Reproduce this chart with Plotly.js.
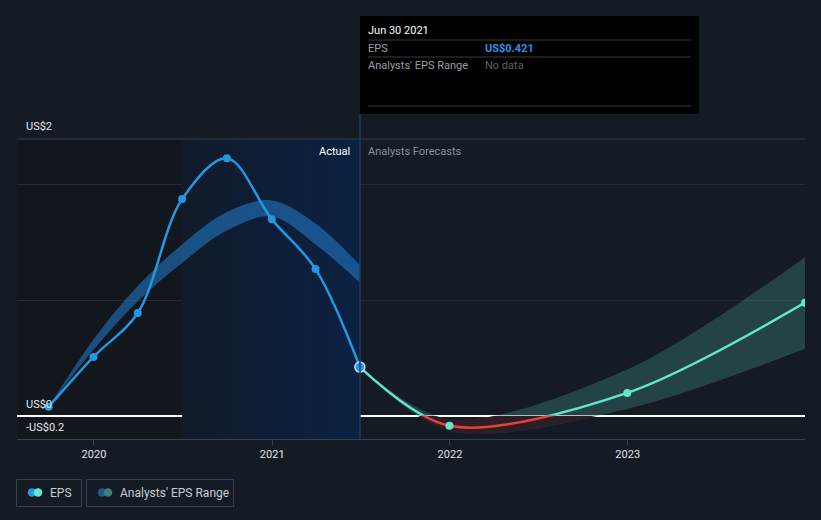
<!DOCTYPE html>
<html>
<head>
<meta charset="utf-8">
<script src="https://cdn.plot.ly/plotly-3.0.1.min.js"></script>
<style>
  html, body { margin: 0; padding: 0; background: #151b25; }
  #myGraph { width: 821px; height: 520px; }
</style>
</head>
<body>
<div id="myGraph"></div>
<script>
// 實際 EPS (每季)
const actualDates = ['2019-09-30', '2019-12-31', '2020-03-31', '2020-06-30', '2020-09-30', '2020-12-31', '2021-03-31', '2021-06-30'];
const actualEps = [0.078, 0.509, 0.888, 1.871, 2.224, 1.698, 1.267, 0.421];
// 過去的分析師區間
const pastRangeHigh = [0.078, 0.66, 1.12, 1.48, 1.76, 1.86, 1.66, 1.30];
const pastRangeLow = [0.078, 0.57, 0.99, 1.32, 1.60, 1.72, 1.48, 1.15];

// 預測
const forecastDates = ['2021-06-30', '2021-12-31', '2022-12-31', '2023-12-31'];
const forecastEps = [0.421, -0.086, 0.198, 0.977];
const forecastHigh = [0.421, -0.03, 0.40, 1.37];
const forecastLow = [0.421, -0.13, 0.06, 0.58];

const yearTicks = ['2020-01-01', '2021-01-01', '2022-01-01', '2023-01-01'];
const yearLabels = ['2020', '2021', '2022', '2023'];

const Y_MIN = -0.2, Y_MAX = 2.39;

// 像素 -> paper 座標
const L = 17, R = 805, T = 139, B = 439;
function px(x) { return (x - L) / (R - L); }
function py(y) { return (B - y) / (B - T); }

const BLUE = '#2496e2', TEAL = '#63e6cb', RED = '#e8403f';
const SMOOTH = 0.9;

let myGraph = document.getElementById('myGraph');

let data = [];

// 過去一年的背景 (漸層)
data.push({
    x: ['2020-06-30', '2021-06-30', '2021-06-30', '2020-06-30', '2020-06-30'],
    y: [Y_MIN, Y_MIN, Y_MAX, Y_MAX, Y_MIN],
    mode: 'lines', line: { width: 0 }, fill: 'toself',
    fillgradient: { type: 'horizontal', colorscale: [[0, '#111a29'], [1, '#0b2244']] },
    hoverinfo: 'skip', showlegend: false
});

// 過去的分析師區間
data.push({
    x: actualDates, y: pastRangeLow, mode: 'lines',
    line: { width: 0, shape: 'spline' }, hoverinfo: 'skip', showlegend: false
});
data.push({
    x: actualDates, y: pastRangeHigh, mode: 'lines', fill: 'tonexty',
    fillcolor: 'rgba(35,125,205,0.55)',
    line: { width: 0, shape: 'spline' }, hoverinfo: 'skip', showlegend: false
});

// 預測區間
data.push({
    x: forecastDates, y: forecastLow, mode: 'lines',
    line: { width: 0, shape: 'spline', smoothing: SMOOTH }, hoverinfo: 'skip', showlegend: false
});
data.push({
    x: forecastDates, y: forecastHigh, mode: 'lines', fill: 'tonexty',
    fillcolor: 'rgba(99,230,203,0.2)',
    line: { width: 0, shape: 'spline', smoothing: SMOOTH }, hoverinfo: 'skip', showlegend: false
});

// 實際 EPS
data.push({
    x: actualDates, y: actualEps, mode: 'lines+markers',
    line: { color: BLUE, width: 2.5, shape: 'spline' },
    marker: { color: BLUE, size: 8 }, showlegend: false
});

// 預測 EPS
data.push({
    x: forecastDates, y: forecastEps, mode: 'lines+markers',
    line: { color: TEAL, width: 2.5, shape: 'spline', smoothing: SMOOTH },
    marker: { color: TEAL, size: 8 }, showlegend: false
});

// 目前選取的點
data.push({
    x: [actualDates[actualDates.length - 1]], y: [actualEps[actualEps.length - 1]],
    mode: 'markers',
    marker: { color: BLUE, size: 10, line: { color: '#bfe0f7', width: 1.5 } },
    showlegend: false
});

// 零以下 (紅色) — 同一組資料, 放在只涵蓋負值的子圖裡
data.push({
    x: forecastDates, y: forecastLow, mode: 'lines', xaxis: 'x2', yaxis: 'y2',
    line: { width: 0, shape: 'spline', smoothing: SMOOTH }, hoverinfo: 'skip', showlegend: false
});
data.push({
    x: forecastDates, y: forecastHigh, mode: 'lines', fill: 'tonexty', xaxis: 'x2', yaxis: 'y2',
    fillcolor: '#2d1e26',
    line: { width: 0, shape: 'spline', smoothing: SMOOTH }, hoverinfo: 'skip', showlegend: false
});
data.push({
    x: forecastDates, y: forecastEps, mode: 'lines', xaxis: 'x2', yaxis: 'y2',
    line: { color: RED, width: 2.5, shape: 'spline', smoothing: SMOOTH }, showlegend: false
});
data.push({
    x: forecastDates, y: forecastEps, mode: 'markers', xaxis: 'x2', yaxis: 'y2',
    marker: { color: TEAL, size: 8 }, showlegend: false
});

const xRange = ['2019-07-27', '2023-12-31'];

let shapes = [
    // 左側較暗區
    { type: 'rect', xref: 'paper', yref: 'paper', x0: 0, x1: px(181), y0: 0, y1: 1,
      fillcolor: '#12161d', line: { width: 0 }, layer: 'below' },
    // 上方邊線
    { type: 'line', xref: 'paper', yref: 'paper', x0: 0, x1: 1, y0: 1, y1: 1,
      line: { color: '#3a3f48', width: 1 } },
    // 游標線
    { type: 'line', xref: 'paper', yref: 'paper', x0: px(360), x1: px(360), y0: 0, y1: py(114),
      line: { color: '#1c3a62', width: 1.5 } },
    // 提示框
    { type: 'rect', xref: 'paper', yref: 'paper', x0: px(360), x1: px(699), y0: py(114), y1: py(16),
      fillcolor: '#000000', line: { width: 0 } },
    { type: 'line', xref: 'paper', yref: 'paper', x0: px(368), x1: px(691), y0: py(40), y1: py(40),
      line: { color: '#3a3b3e', width: 1 } },
    { type: 'line', xref: 'paper', yref: 'paper', x0: px(368), x1: px(691), y0: py(57), y1: py(57),
      line: { color: '#3a3b3e', width: 1 } },
    { type: 'line', xref: 'paper', yref: 'paper', x0: px(368), x1: px(691), y0: py(106), y1: py(106),
      line: { color: '#3a3b3e', width: 1 } },
    // 圖例框
    { type: 'rect', xref: 'paper', yref: 'paper', x0: px(16.5), x1: px(81.5), y0: py(506.5), y1: py(479.5),
      line: { color: '#3b404b', width: 1 } },
    { type: 'rect', xref: 'paper', yref: 'paper', x0: px(86.5), x1: px(233.5), y0: py(506.5), y1: py(479.5),
      line: { color: '#3b404b', width: 1 } }
];

// 圖例小圓點
function dot(cx, cy, r, color) {
    return { type: 'circle', xref: 'paper', yref: 'paper',
             x0: px(cx - r), x1: px(cx + r), y0: py(cy + r), y1: py(cy - r),
             fillcolor: color, line: { width: 0 } };
}
shapes.push(dot(32, 492.5, 4.3, BLUE));
shapes.push(dot(38, 492.5, 4.3, TEAL));
shapes.push(dot(102, 492.5, 4.3, '#1e5a8c'));
shapes.push(dot(108, 492.5, 4.3, '#3d7d78'));

function label(x, y, text, color, size, anchor, bold) {
    return { xref: 'paper', yref: 'paper', x: px(x), y: py(y), text: bold ? '<b>' + text + '</b>' : text,
             showarrow: false, xanchor: anchor || 'left', yanchor: 'middle',
             font: { family: 'Roboto, sans-serif', size: size || 11, color: color } };
}

let annotations = [
    label(24, 127, 'US$2', '#e6e8eb', 11),
    label(24, 404, 'US$0', '#e6e8eb', 11),
    label(24, 427, '-US$0.2', '#e6e8eb', 11),
    label(352, 151, 'Actual', '#ffffff', 11, 'right'),
    label(366, 151, 'Analysts Forecasts', '#8a8f98', 11),
    label(366, 31, 'Jun 30 2021', '#ffffff', 11),
    label(366, 48, 'EPS', '#9a9ea6', 11),
    label(483, 48, 'US$0.421', BLUE, 11, 'left', true),
    label(366, 65, "Analysts' EPS Range", '#9a9ea6', 11),
    label(483, 65, 'No data', '#5d6168', 11),
    label(48, 493, 'EPS', '#c8ccd2', 12),
    label(118, 493, "Analysts' EPS Range", '#c8ccd2', 12)
];

let layout = {
    width: 821, height: 520,
    margin: { l: L, r: 821 - R, t: T, b: 520 - B },
    paper_bgcolor: '#151b25',
    plot_bgcolor: 'rgba(0,0,0,0)',
    hovermode: false,
    showlegend: false,
    font: { family: 'Roboto, sans-serif', color: '#d8dbe0' },
    xaxis: {
        type: 'date', range: xRange,
        tickvals: yearTicks, ticktext: yearLabels,
        showgrid: false, zeroline: false,
        showline: true, linecolor: '#3b404b', linewidth: 1,
        ticks: 'outside', ticklen: 5, tickcolor: '#3b404b',
        tickfont: { size: 11, color: '#e0e3e7' }
    },
    yaxis: {
        range: [Y_MIN, Y_MAX], tickvals: [1, 2], showticklabels: false,
        gridcolor: '#262c37', gridwidth: 1,
        zeroline: true, zerolinecolor: '#ffffff', zerolinewidth: 1.5,
        fixedrange: true
    },
    xaxis2: {
        type: 'date', range: xRange, anchor: 'y2', domain: [0, 1], visible: false
    },
    yaxis2: {
        range: [Y_MIN, 0], domain: [0, (0 - Y_MIN) / (Y_MAX - Y_MIN)], anchor: 'x2',
        visible: false, showgrid: false, zeroline: false
    },
    shapes: shapes,
    annotations: annotations
};

Plotly.newPlot(myGraph, data, layout, { displayModeBar: false, staticPlot: true });
</script>
</body>
</html>
